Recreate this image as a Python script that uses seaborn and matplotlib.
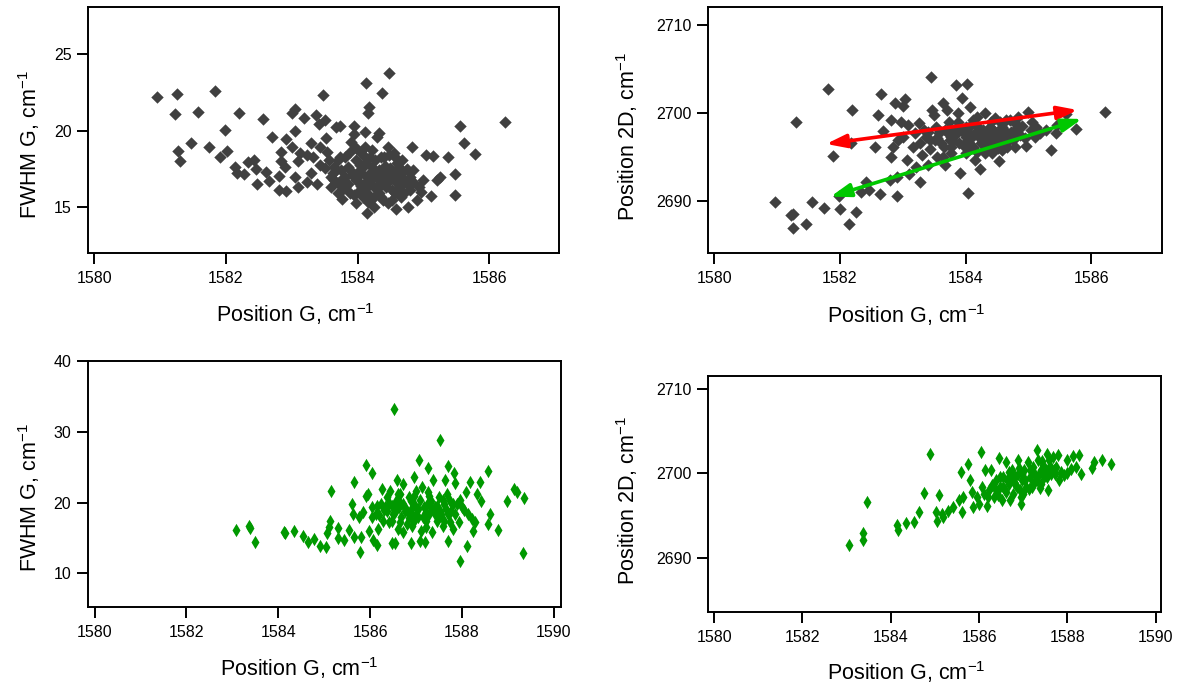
import pandas as pd
import matplotlib
matplotlib.use('Agg')
import matplotlib.pyplot as plt
import seaborn as sns

# --- DATA ---
# sample set 1 (dark grey): Position G vs FWHM G
top_fwhm_pts = [
    (1580.95, 22.22), (1581.26, 22.39), (1581.23, 21.09), (1581.27, 18.70), (1581.31, 18.02),
    (1581.47, 19.22), (1581.57, 21.24), (1581.83, 22.61), (1581.75, 18.91), (1581.91, 18.30),
    (1581.98, 20.04), (1582.01, 18.70), (1582.20, 21.17), (1582.14, 17.65), (1582.17, 17.22),
    (1582.28, 17.17), (1582.33, 17.98), (1582.42, 18.09), (1582.45, 17.48), (1582.48, 16.50),
    (1582.56, 20.76), (1582.61, 17.33), (1582.66, 16.72), (1582.70, 19.61), (1582.80, 16.13),
    (1582.91, 16.07), (1582.83, 18.63), (1582.83, 18.04), (1582.91, 19.43), (1582.90, 17.65),
    (1582.81, 17.04), (1583.00, 21.13), (1583.05, 21.41), (1583.05, 19.96), (1583.00, 18.96),
    (1583.05, 16.98), (1583.09, 16.35), (1583.10, 18.04), (1583.13, 18.52), (1583.18, 20.80),
    (1583.23, 16.67), (1583.23, 18.41), (1583.29, 19.17), (1583.29, 17.22), (1583.32, 18.30),
    (1583.37, 21.02), (1583.38, 16.50), (1583.41, 20.43), (1583.43, 18.96), (1583.43, 17.76),
    (1583.47, 22.33), (1583.51, 20.70), (1583.52, 19.50), (1583.54, 18.63), (1583.51, 17.54),
    (1583.62, 17.22), (1583.67, 20.26), (1583.70, 18.09), (1583.71, 16.61), (1583.74, 20.30),
    (1583.75, 17.43), (1583.73, 16.02), (1583.77, 15.52), (1583.81, 18.30), (1583.85, 17.65),
    (1583.90, 19.28), (1583.94, 20.30), (1583.95, 19.78), (1583.97, 18.85), (1583.97, 16.78),
    (1583.94, 15.80), (1584.03, 17.76), (1584.05, 17.22), (1584.11, 19.93), (1584.13, 23.09),
    (1584.14, 16.35), (1584.14, 14.61), (1584.18, 21.52), (1584.16, 21.13), (1584.16, 15.37),
    (1584.19, 18.30), (1584.25, 15.70), (1584.27, 17.22), (1584.30, 19.61), (1584.33, 19.83),
    (1584.37, 22.48), (1584.36, 16.57), (1584.38, 15.48), (1584.40, 18.30), (1584.46, 18.96),
    (1584.48, 23.78), (1584.49, 17.54), (1584.52, 16.13), (1584.55, 18.52), (1584.57, 16.78),
    (1584.58, 14.87), (1584.60, 17.87), (1584.66, 15.70), (1584.68, 17.22), (1584.74, 16.57),
    (1584.77, 15.04), (1584.82, 18.91), (1584.85, 17.43), (1584.90, 15.48), (1584.96, 16.02),
    (1585.00, 16.78), (1585.04, 18.41), (1585.12, 15.74), (1585.15, 18.35), (1585.21, 16.78),
    (1585.26, 17.00), (1585.38, 18.26), (1585.48, 17.17), (1585.48, 15.80), (1585.56, 20.30),
    (1585.61, 19.17), (1585.79, 18.48), (1586.24, 20.59),
    (1583.56, 18.09), (1583.64, 17.65), (1583.73, 18.30), (1583.81, 17.00), (1583.89, 17.43),
    (1583.97, 18.09), (1584.05, 18.52), (1584.08, 17.65), (1584.14, 17.00), (1584.22, 17.65),
    (1584.27, 18.09), (1584.33, 17.43), (1584.38, 17.00), (1584.44, 17.22), (1584.49, 16.78),
    (1584.55, 17.22), (1584.63, 17.65), (1584.68, 18.09), (1584.03, 16.13), (1584.08, 15.70),
    (1584.25, 16.35), (1584.33, 15.91), (1584.44, 16.35), (1584.52, 15.48), (1584.57, 15.91),
    (1584.36, 18.30), (1584.22, 18.74), (1584.11, 18.96), (1583.81, 16.35), (1583.89, 15.91),
    (1583.64, 16.78), (1583.59, 16.35), (1584.63, 16.35), (1584.71, 15.91), (1584.79, 16.13),
    (1584.85, 16.67), (1584.93, 16.35), (1584.46, 15.26), (1584.25, 15.04), (1583.97, 15.26),
    (1583.60, 17.00), (1583.68, 17.45), (1583.78, 16.90), (1583.86, 16.55), (1583.92, 17.10),
    (1584.00, 16.70), (1584.02, 17.35), (1584.10, 16.50), (1584.12, 17.90), (1584.20, 16.80),
    (1584.20, 17.30), (1584.30, 16.90), (1584.30, 16.20), (1584.41, 16.70), (1584.42, 17.70),
    (1584.50, 17.40), (1584.52, 16.95), (1584.60, 16.60), (1584.62, 17.10), (1584.70, 16.80),
    (1584.75, 17.50), (1584.80, 17.00), (1584.35, 15.70), (1584.15, 15.90), (1584.05, 16.40),
    (1583.88, 18.60), (1584.48, 18.40), (1584.58, 18.20), (1584.12, 18.30), (1583.70, 15.90),
]

# sample set 1 (dark grey): Position G vs Position 2D
top_2d_pts = [
    (1580.96, 2689.89), (1581.22, 2688.45), (1581.25, 2688.56), (1581.25, 2686.93), (1581.30, 2698.98),
    (1581.46, 2687.42), (1581.56, 2689.96), (1581.75, 2689.20), (1581.81, 2702.77), (1581.89, 2695.15),
    (1582.00, 2689.13), (1581.98, 2690.61), (1582.14, 2687.42), (1582.19, 2700.42), (1582.18, 2696.67),
    (1582.26, 2688.83), (1582.33, 2691.10), (1582.41, 2692.23), (1582.46, 2691.29), (1582.55, 2696.21),
    (1582.60, 2699.81), (1582.63, 2690.83), (1582.66, 2702.16), (1582.69, 2698.03), (1582.79, 2692.42),
    (1582.81, 2699.24), (1582.81, 2695.08), (1582.84, 2696.21), (1582.88, 2701.14), (1582.90, 2692.73),
    (1582.91, 2690.61), (1582.93, 2696.97), (1582.97, 2699.05), (1583.01, 2700.83), (1583.03, 2701.59),
    (1583.01, 2697.35), (1583.07, 2694.70), (1583.10, 2693.11), (1583.09, 2698.67), (1583.16, 2696.21),
    (1583.19, 2697.80), (1583.21, 2693.94), (1583.25, 2698.86), (1583.28, 2692.23), (1583.28, 2696.59),
    (1583.31, 2695.27), (1583.37, 2697.35), (1583.40, 2694.13), (1583.43, 2695.91), (1583.45, 2704.09),
    (1583.46, 2700.38), (1583.49, 2699.81), (1583.51, 2696.97), (1583.55, 2695.08), (1583.58, 2697.73),
    (1583.64, 2701.21), (1583.65, 2696.21), (1583.67, 2694.13), (1583.70, 2700.38), (1583.73, 2699.05),
    (1583.75, 2696.97), (1583.77, 2695.45), (1583.82, 2698.11), (1583.85, 2703.22), (1583.87, 2700.00),
    (1583.89, 2696.59), (1583.91, 2693.18), (1583.94, 2701.70), (1583.97, 2697.73), (1584.00, 2695.45),
    (1584.02, 2703.30), (1584.03, 2690.91), (1584.05, 2697.16), (1584.07, 2700.76), (1584.09, 2698.67),
    (1584.12, 2696.21), (1584.15, 2694.70), (1584.18, 2699.62), (1584.21, 2697.35), (1584.23, 2693.64),
    (1584.27, 2698.11), (1584.30, 2700.08), (1584.33, 2696.02), (1584.36, 2696.97), (1584.39, 2698.48),
    (1584.42, 2695.45), (1584.47, 2699.43), (1584.48, 2697.73), (1584.53, 2694.62), (1584.54, 2696.59),
    (1584.57, 2698.48), (1584.60, 2697.35), (1584.64, 2699.24), (1584.66, 2696.21), (1584.72, 2697.92),
    (1584.75, 2696.97), (1584.78, 2698.86), (1584.84, 2699.62), (1584.87, 2697.54), (1584.96, 2696.33),
    (1584.99, 2700.19), (1585.04, 2698.11), (1585.10, 2697.35), (1585.19, 2697.73), (1585.28, 2698.11),
    (1585.36, 2695.83), (1585.44, 2697.73), (1585.46, 2698.67), (1585.60, 2699.92), (1585.76, 2698.18),
    (1586.22, 2700.19),
    (1583.52, 2698.48), (1583.67, 2698.11), (1583.76, 2697.35), (1583.91, 2698.48), (1584.00, 2698.48),
    (1584.06, 2696.59), (1584.15, 2697.73), (1584.24, 2696.59), (1584.30, 2695.45), (1584.39, 2696.21),
    (1584.45, 2696.97), (1584.51, 2696.02), (1584.57, 2695.83), (1584.63, 2697.92), (1584.69, 2696.97),
    (1584.78, 2696.21), (1584.00, 2697.35), (1584.18, 2695.64), (1583.76, 2696.21), (1583.64, 2695.08),
    (1583.43, 2696.97), (1583.34, 2698.11),
    (1583.60, 2696.60), (1583.70, 2697.90), (1583.80, 2696.90), (1583.85, 2697.60), (1583.95, 2696.40),
    (1584.02, 2698.00), (1584.05, 2696.00), (1584.10, 2697.30), (1584.20, 2698.40), (1584.22, 2697.80),
    (1584.28, 2696.80), (1584.35, 2697.50), (1584.40, 2699.00), (1584.45, 2698.00), (1584.50, 2697.20),
    (1584.55, 2699.00), (1584.60, 2698.20), (1584.68, 2697.60), (1584.70, 2699.20), (1584.80, 2697.40),
    (1584.82, 2698.30), (1584.90, 2698.60), (1584.95, 2697.20), (1585.05, 2699.00), (1585.12, 2698.50),
    (1583.88, 2699.00), (1584.12, 2699.20), (1583.55, 2697.20), (1583.40, 2697.90), (1584.32, 2696.20),
]

# sample set 2 (green): Position G vs FWHM G
bot_fwhm_pts = [
    (1583.07, 16.17), (1583.36, 16.65), (1583.38, 16.41), (1583.49, 14.47), (1584.13, 15.89),
    (1584.15, 15.65), (1584.35, 15.94), (1584.53, 15.32), (1584.65, 14.47), (1584.77, 14.85),
    (1584.90, 13.91), (1585.03, 13.67), (1585.06, 15.70), (1585.10, 16.50), (1585.13, 17.45),
    (1585.15, 21.70), (1585.29, 16.36), (1585.29, 14.99), (1585.42, 14.76), (1585.55, 16.17),
    (1585.60, 19.81), (1585.62, 18.39), (1585.64, 22.88), (1585.64, 15.09), (1585.76, 17.92),
    (1585.78, 13.06), (1585.80, 15.09), (1585.84, 18.63), (1585.90, 20.99), (1585.92, 25.24),
    (1585.96, 21.23), (1585.98, 16.03), (1586.04, 24.16), (1586.04, 19.34), (1586.06, 14.71),
    (1586.12, 18.39), (1586.16, 14.05), (1586.18, 16.27), (1586.24, 19.81), (1586.26, 21.94),
    (1586.28, 17.45), (1586.32, 19.34), (1586.40, 17.21), (1586.44, 21.61), (1586.47, 14.24),
    (1586.50, 18.39), (1586.53, 33.27), (1586.55, 14.24), (1586.56, 20.28), (1586.58, 23.12),
    (1586.60, 16.27), (1586.63, 19.34), (1586.66, 21.23), (1586.68, 17.92), (1586.71, 15.80),
    (1586.72, 22.65), (1586.76, 18.87), (1586.80, 16.98), (1586.84, 20.76), (1586.88, 18.39),
    (1586.90, 14.24), (1586.92, 16.74), (1586.95, 23.59), (1586.96, 19.81), (1587.00, 21.70),
    (1587.04, 17.92), (1587.06, 26.05), (1587.09, 14.61), (1587.11, 16.03), (1587.13, 22.17),
    (1587.17, 19.34), (1587.19, 14.47), (1587.22, 17.45), (1587.25, 21.46), (1587.27, 24.87),
    (1587.29, 18.39), (1587.33, 20.28), (1587.35, 15.80), (1587.37, 23.12), (1587.41, 19.34),
    (1587.45, 17.45), (1587.49, 20.76), (1587.53, 28.79), (1587.54, 18.39), (1587.58, 16.74),
    (1587.61, 19.81), (1587.63, 23.12), (1587.67, 21.23), (1587.70, 25.10), (1587.70, 14.61),
    (1587.73, 17.21), (1587.77, 18.87), (1587.81, 16.27), (1587.83, 24.16), (1587.85, 22.74),
    (1587.89, 19.81), (1587.93, 17.21), (1587.95, 11.69), (1587.99, 19.34), (1588.08, 21.46),
    (1588.11, 13.91), (1588.13, 18.39), (1588.17, 22.88), (1588.21, 17.69), (1588.25, 16.03),
    (1588.29, 17.21), (1588.33, 21.23), (1588.39, 22.88), (1588.41, 20.28), (1588.57, 24.44),
    (1588.57, 16.98), (1588.62, 18.39), (1588.79, 16.17), (1588.99, 20.19), (1589.14, 21.94),
    (1589.20, 21.46), (1589.32, 12.87), (1589.36, 20.66),
    (1586.16, 19.57), (1586.36, 18.87), (1586.48, 19.57), (1586.72, 19.81), (1586.80, 18.87),
    (1586.88, 20.28), (1587.04, 19.10), (1587.21, 18.63), (1587.33, 19.34), (1587.45, 19.57),
    (1587.53, 18.87), (1587.65, 19.10), (1587.73, 20.28), (1587.81, 19.81), (1586.48, 17.45),
    (1586.64, 17.21), (1586.96, 17.45), (1587.21, 16.50), (1587.41, 18.39), (1587.61, 17.45),
    (1586.36, 20.76), (1586.60, 21.23), (1586.96, 20.99), (1587.29, 20.99),
    (1586.20, 18.20), (1586.30, 18.90), (1586.40, 19.90), (1586.55, 18.70), (1586.65, 19.90),
    (1586.75, 19.30), (1586.85, 17.80), (1586.92, 19.30), (1587.00, 18.40), (1587.08, 20.40),
    (1587.15, 17.90), (1587.25, 19.90), (1587.38, 18.90), (1587.50, 17.90), (1587.58, 20.30),
    (1587.70, 18.40), (1587.85, 18.40), (1587.95, 20.40), (1588.05, 18.90), (1586.05, 18.00),
]

# sample set 2 (green): Position G vs Position 2D
bot_2d_pts = [
    (1583.06, 2691.55), (1583.36, 2692.90), (1583.38, 2692.10), (1583.47, 2696.59), (1584.13, 2693.93),
    (1584.16, 2693.33), (1584.34, 2694.13), (1584.53, 2694.21), (1584.65, 2695.48), (1584.76, 2697.70),
    (1584.89, 2702.34), (1585.02, 2695.40), (1585.04, 2694.40), (1585.09, 2697.38), (1585.15, 2695.20),
    (1585.19, 2694.80), (1585.29, 2695.60), (1585.40, 2695.99), (1585.55, 2696.79), (1585.60, 2700.16),
    (1585.62, 2695.40), (1585.63, 2697.18), (1585.74, 2701.15), (1585.80, 2699.17), (1585.83, 2697.78),
    (1585.86, 2695.99), (1585.96, 2697.18), (1586.00, 2696.39), (1586.04, 2702.54), (1586.06, 2698.37),
    (1586.11, 2697.58), (1586.14, 2700.36), (1586.17, 2696.19), (1586.23, 2697.98), (1586.26, 2700.44),
    (1586.34, 2697.18), (1586.38, 2699.17), (1586.45, 2701.87), (1586.47, 2698.37), (1586.51, 2696.79),
    (1586.55, 2699.56), (1586.60, 2701.35), (1586.62, 2697.78), (1586.68, 2698.77), (1586.71, 2696.79),
    (1586.74, 2700.36), (1586.77, 2697.58), (1586.81, 2699.56), (1586.85, 2698.37), (1586.89, 2701.55),
    (1586.94, 2697.18), (1586.96, 2696.39), (1586.98, 2699.17), (1587.02, 2700.36), (1587.06, 2698.37),
    (1587.11, 2701.35), (1587.15, 2699.56), (1587.19, 2698.37), (1587.23, 2700.75), (1587.28, 2699.17),
    (1587.32, 2702.74), (1587.34, 2701.55), (1587.36, 2699.96), (1587.40, 2698.77), (1587.45, 2700.95),
    (1587.47, 2699.56), (1587.53, 2702.34), (1587.56, 2700.36), (1587.57, 2697.98), (1587.59, 2701.55),
    (1587.64, 2699.96), (1587.68, 2701.94), (1587.73, 2699.96), (1587.79, 2702.14), (1587.81, 2699.17),
    (1587.93, 2699.76), (1587.98, 2701.55), (1588.09, 2700.56), (1588.13, 2702.02), (1588.19, 2700.75),
    (1588.26, 2702.14), (1588.30, 2699.96), (1588.55, 2700.63), (1588.60, 2701.35), (1588.78, 2701.63),
    (1588.98, 2701.15),
    (1586.55, 2698.37), (1586.64, 2699.17), (1586.81, 2698.77), (1586.98, 2699.96), (1587.15, 2700.36),
    (1587.32, 2699.17), (1587.40, 2700.36), (1587.53, 2699.56), (1587.74, 2700.75), (1586.38, 2697.98),
    (1586.21, 2697.18), (1586.72, 2699.56), (1586.89, 2699.96), (1587.23, 2698.77), (1587.49, 2700.36),
    (1586.30, 2698.60), (1586.42, 2697.40), (1586.58, 2698.00), (1586.68, 2700.20), (1586.78, 2699.00),
    (1586.92, 2698.00), (1587.05, 2699.20), (1587.12, 2698.20), (1587.25, 2700.00), (1587.38, 2698.30),
    (1587.43, 2701.50), (1587.60, 2700.90), (1587.70, 2700.40), (1587.85, 2700.20), (1588.00, 2700.00),
    (1586.90, 2700.60), (1586.48, 2699.60), (1587.00, 2697.60),
]

# double-headed guide arrows in the upper right panel: (start, end)
red_arrow = [(1581.78, 2696.52), (1585.78, 2700.38)]
green_arrow = [(1581.85, 2690.53), (1585.85, 2699.36)]

# ticks
ticks_x_top = [1580, 1582, 1584, 1586]
ticks_x_bot = [1580, 1582, 1584, 1586, 1588, 1590]
ticks_fwhm_top = [15, 20, 25]
ticks_fwhm_bot = [10, 20, 30, 40]
ticks_2d = [2690, 2700, 2710]
# --------------------

COR_CINZA = '#404040'
COR_VERDE = '#009900'
LABEL_X = r'Position G, cm$^{\mathregular{-1}}$'
LABEL_FWHM = r'FWHM G, cm$^{\mathregular{-1}}$'
LABEL_2D = r'Position 2D, cm$^{\mathregular{-1}}$'


def para_df(pts):
    return pd.DataFrame(pts, columns=['x', 'y'])


def estilo(ax, xlim, ylim, xticks, yticks, ylabel, lx, ly, ylx, yly):
    ax.set_xlim(xlim)
    ax.set_ylim(ylim)
    ax.set_xticks(xticks)
    ax.set_yticks(yticks)
    for sp in ax.spines.values():
        sp.set_visible(True)
        sp.set_color('black')
        sp.set_linewidth(1.4)
    ax.tick_params(axis='both', direction='out', length=8, width=1.4,
                   labelsize=11.5, colors='black', top=False, right=False,
                   bottom=True, left=True)
    ax.tick_params(axis='x', pad=5)
    ax.tick_params(axis='y', pad=4)
    ax.set_xlabel(LABEL_X, fontsize=15.5, color='black')
    ax.set_ylabel(ylabel, fontsize=15.5, color='black')
    ax.xaxis.set_label_coords(lx, ly)
    ax.xaxis.label.set_verticalalignment('baseline')
    ax.yaxis.set_label_coords(ylx, yly)
    ax.yaxis.label.set_verticalalignment('baseline')


def seta(ax, pts, cor):
    ax.annotate('', xy=pts[1], xytext=pts[0],
                arrowprops=dict(arrowstyle='<|-|>,head_length=1.2,head_width=0.4',
                                color=cor, lw=2.6, shrinkA=0, shrinkB=0),
                zorder=5)


sns.set_style('white')
plt.rcParams['font.family'] = ['Liberation Sans', 'DejaVu Sans']
plt.rcParams['mathtext.fontset'] = 'custom'
plt.rcParams['mathtext.rm'] = 'Liberation Sans'

fig = plt.figure(figsize=(11.79, 6.86), dpi=100)
ax1 = fig.add_axes([0.0749, 0.6308, 0.3992, 0.3586])
ax2 = fig.add_axes([0.6005, 0.6308, 0.3849, 0.3586])
ax3 = fig.add_axes([0.0746, 0.1147, 0.4010, 0.3590])
ax4 = fig.add_axes([0.6005, 0.1083, 0.3846, 0.3436])

sns.scatterplot(data=para_df(top_fwhm_pts), x='x', y='y', ax=ax1, marker='D',
                s=40, color=COR_CINZA, linewidth=0)
sns.scatterplot(data=para_df(top_2d_pts), x='x', y='y', ax=ax2, marker='D',
                s=40, color=COR_CINZA, linewidth=0)
sns.scatterplot(data=para_df(bot_fwhm_pts), x='x', y='y', ax=ax3, marker='d',
                s=46, color=COR_VERDE, linewidth=0)
sns.scatterplot(data=para_df(bot_2d_pts), x='x', y='y', ax=ax4, marker='d',
                s=46, color=COR_VERDE, linewidth=0)

seta(ax2, red_arrow, '#ff0000')
seta(ax2, green_arrow, '#00c800')

estilo(ax1, (1579.91, 1587.06), (12.0, 28.05), ticks_x_top, ticks_fwhm_top,
       LABEL_FWHM, 0.44, -0.281, -0.108, 0.44)
estilo(ax2, (1579.90, 1587.12), (2684.1, 2712.05), ticks_x_top, ticks_2d,
       LABEL_2D, 0.436, -0.285, -0.161, 0.475)
estilo(ax3, (1579.855, 1590.15), (5.2, 40), ticks_x_bot, ticks_fwhm_bot,
       LABEL_FWHM, 0.446, -0.278, -0.108, 0.444)
estilo(ax4, (1579.86, 1590.13), (2683.6, 2711.55), ticks_x_bot, ticks_2d,
       LABEL_2D, 0.437, -0.288, -0.161, 0.474)

fig.savefig('out.png', dpi=100, facecolor='white')
